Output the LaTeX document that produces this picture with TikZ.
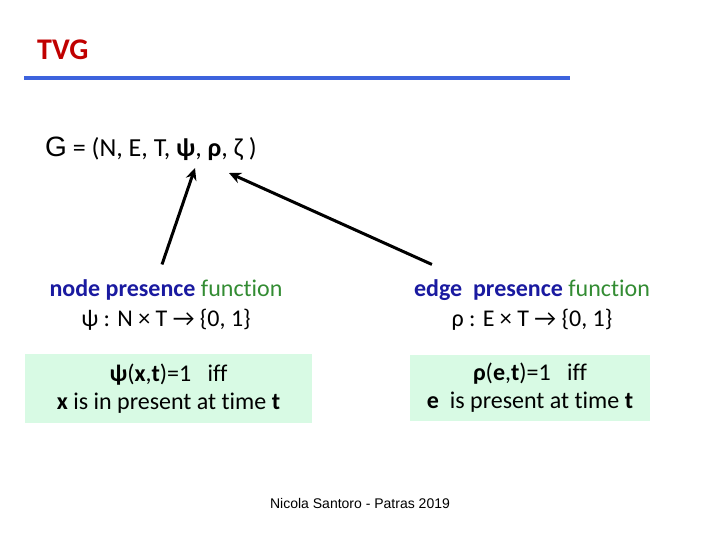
\documentclass[tikz,border=0pt]{standalone}
\usepackage{fontspec}
\setmainfont{Carlito}[Ligatures=NoCommon]
\newfontfamily\arialfont{Liberation Sans}
\usetikzlibrary{calc, arrows.meta}
\definecolor{titelrot}{RGB}{192,0,0}
\definecolor{linienblau}{RGB}{61,99,221}
\definecolor{dunkelblau}{RGB}{26,26,160}
\definecolor{gruen}{RGB}{51,140,51}
\definecolor{mint}{RGB}{216,250,228}
\tikzset{
    funktext/.style={font=\fontsize{24}{30}\selectfont, align=center, inner sep=0pt},
    kasten/.style={fill=mint, font=\fontsize{24}{28}\selectfont, align=center, inner sep=0pt},
    pfeil/.style={line width=3pt, -{Stealth[length=12pt,width=11pt]}}
}

\begin{document}
\begin{tikzpicture}[x=1pt, y=-1pt]
\useasboundingbox (0,0) rectangle (720,540);

% Titel
\node[anchor=base west, inner sep=0pt, text=titelrot, font=\fontsize{30}{36}\selectfont\bfseries] (titel) at (37,60) {TVG};
\coordinate (linieA) at (24,78);
\coordinate (linieB) at (570,78);
\draw[linienblau, line width=4pt] (linieA) -- (linieB);

% Tupel
\node[anchor=base west, inner sep=0pt, font=\fontsize{26}{30}\selectfont] (tupel) at (45,157)
    {{\arialfont\fontsize{28}{30}\selectfont G} = (N, E, T, \textbf{ψ}, \textbf{ρ}, ζ )};
\coordinate (psiSpitze) at (195,168);
\coordinate (rhoSpitze) at (229,173);

% Funktionen
\node[funktext] (knotenfkt) at (166,305)
    {\textcolor{dunkelblau}{\textbf{node presence}} \textcolor{gruen}{function}\\ ψ : N × T → \{0, 1\}};
\node[funktext] (kantenfkt) at (532,305)
    {\textcolor{dunkelblau}{\textbf{edge\ \ presence}} \textcolor{gruen}{function}\\ ρ : E × T → \{0, 1\}};

% Kaesten
\node[kasten, minimum width=287pt, minimum height=69pt] (knotenbox) at (168.5,388.5)
    {\textbf{ψ}(\textbf{x},\textbf{t})=1\ \ \ iff\\ \textbf{x} is in present at time \textbf{t}};
\node[kasten, minimum width=240pt, minimum height=66pt] (kantenbox) at (530,388)
    {\textbf{ρ}(\textbf{e},\textbf{t})=1\ \ \ iff\\ \textbf{e}\ \ is present at time \textbf{t}};

% Pfeile
\draw[pfeil] ([xshift=-4pt,yshift=15pt]knotenfkt.north) -- (psiSpitze);
\draw[pfeil] ([xshift=18pt,yshift=15pt]kantenfkt.north west) -- (rhoSpitze);

% Fusszeile
\node[anchor=base, inner sep=0pt, font=\arialfont\fontsize{14}{16}\selectfont] (fusszeile) at (360,508)
    {Nicola Santoro - Patras 2019};
\end{tikzpicture}
\end{document}
